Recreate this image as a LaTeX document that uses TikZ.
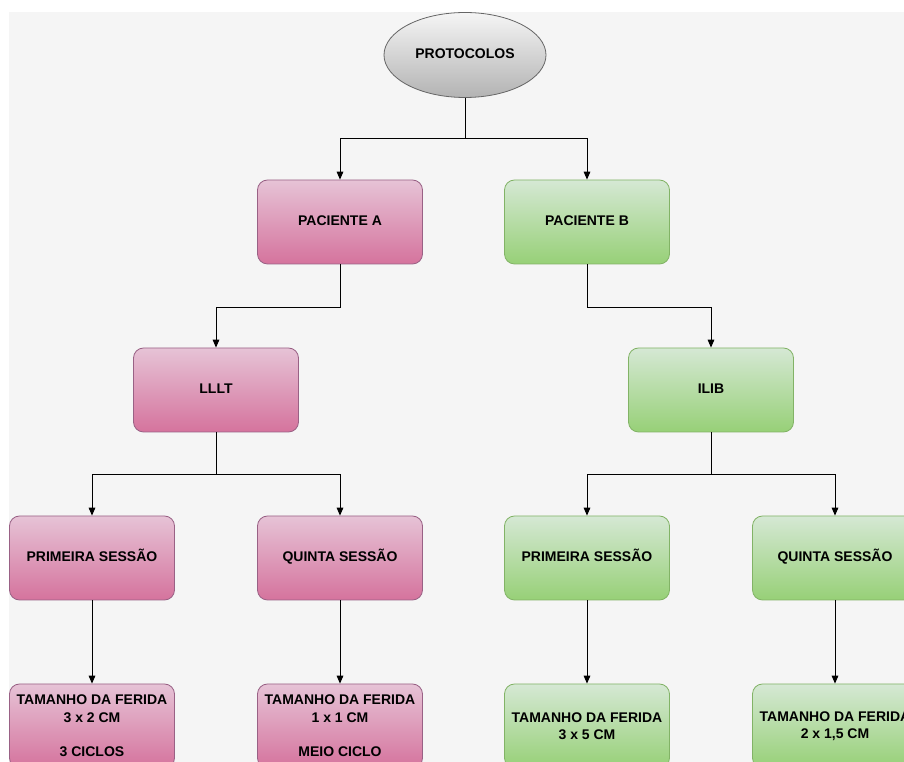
\documentclass[tikz,border=0pt]{standalone}
\usepackage{fontspec}
\setmainfont{Liberation Sans}
\usetikzlibrary{arrows.meta,shapes.geometric}
\definecolor{bggray}{HTML}{F5F5F5}
\definecolor{pinktop}{HTML}{E6C3D6}
\definecolor{pinkbot}{HTML}{D5739D}
\definecolor{pinkline}{HTML}{996185}
\definecolor{greentop}{HTML}{D5E8D4}
\definecolor{greenbot}{HTML}{97D077}
\definecolor{greenline}{HTML}{82B366}
\definecolor{graytop}{HTML}{F5F5F5}
\definecolor{graybot}{HTML}{B3B3B3}
\definecolor{grayline}{HTML}{666666}
\begin{document}
\begin{tikzpicture}[
		x=0.75pt,
		y=-0.75pt,
		font=\fontsize{10.5}{13}\selectfont\bfseries
	]
	\tikzset{
		boxa/.style = {rectangle, rounded corners=7.5pt, draw=pinkline, top color=pinktop, bottom color=pinkbot, align=center, minimum width=123.75pt, minimum height=63pt, line width=0.6pt},
		boxb/.style = {rectangle, rounded corners=7.5pt, draw=greenline, top color=greentop, bottom color=greenbot, align=center, minimum width=123.75pt, minimum height=63pt, line width=0.6pt},
		oneline/.style = {text height=7.6pt, text depth=2.2pt},
		rootn/.style = {ellipse, draw=grayline, top color=graytop, bottom color=graybot, minimum width=121.5pt, minimum height=63.75pt, line width=0.6pt},
		conn/.style = {-{Triangle[length=6pt,width=5pt]}, line width=0.75pt, black},
	}
	\useasboundingbox (0,0) rectangle (904,762);
	\fill[white] (0,0) rectangle (904,762);
	\fill[bggray] (9,12) rectangle (904,762);
	%
	\node[rootn, oneline] at (465,55) (proto) {PROTOCOLOS};
	\node[boxa, oneline] at (340,222) (pa) {PACIENTE A};
	\node[boxb, oneline] at (587,222) (pb) {PACIENTE B};
	\node[boxa, oneline] at (216,390) (lllt) {LLLT};
	\node[boxb, oneline] at (711,390) (ilib) {ILIB};
	\node[boxa, oneline] at (92,558) (pa1) {PRIMEIRA SESSÃO};
	\node[boxa, oneline] at (340,558) (pa5) {QUINTA SESSÃO};
	\node[boxb, oneline] at (587,558) (pb1) {PRIMEIRA SESSÃO};
	\node[boxb, oneline] at (835,558) (pb5) {QUINTA SESSÃO};
	\node[boxa] at (92,726) (ta1) {TAMANHO DA FERIDA\\3 x 2 CM\\[13pt]3 CICLOS};
	\node[boxa] at (340,726) (ta5) {TAMANHO DA FERIDA\\1 x 1 CM\\[13pt]MEIO CICLO};
	\node[boxb] at (587,726) (tb1) {TAMANHO DA FERIDA\\3 x 5 CM};
	\node[boxb] at (835,726) (tb5) {TAMANHO DA FERIDA\\2 x 1,5 CM};
	%
	\draw[conn] (proto.south) -- ++(0,41) -| (pa.north);
	\draw[conn] (proto.south) -- ++(0,41) -| (pb.north);
	\draw[conn] (pa.south) -- ++(0,43) -| (lllt.north);
	\draw[conn] (pb.south) -- ++(0,43) -| (ilib.north);
	%
	\draw[conn] (lllt.south) -- ++(0,42) -| (pa1.north);
	\draw[conn] (lllt.south) -- ++(0,42) -| (pa5.north);
	\draw[conn] (ilib.south) -- ++(0,42) -| (pb1.north);
	\draw[conn] (ilib.south) -- ++(0,42) -| (pb5.north);
	%
	\draw[conn] (pa1) -- (ta1);
	\draw[conn] (pa5) -- (ta5);
	\draw[conn] (pb1) -- (tb1);
	\draw[conn] (pb5) -- (tb5);
\end{tikzpicture}
\end{document}
